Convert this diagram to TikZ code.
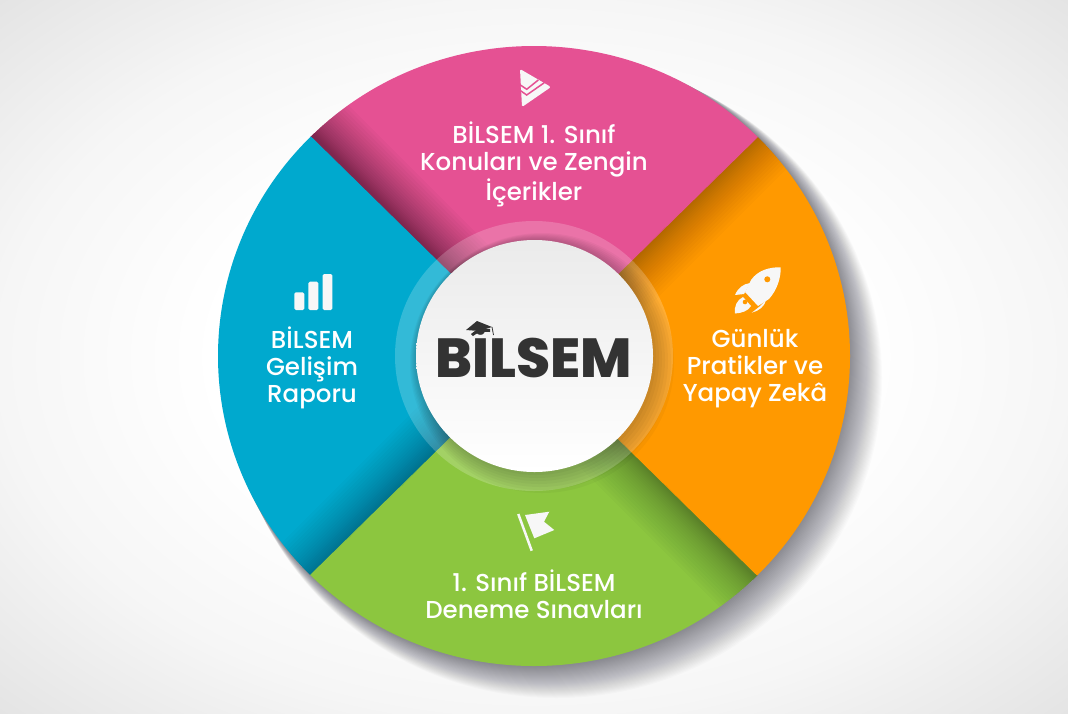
\documentclass[tikz,border=0pt]{standalone}
\usepackage{fontspec}
\usetikzlibrary{shapes.geometric}
\newfontfamily\labelfont{Poppins Medium}
\newfontfamily\logofont{Poppins ExtraBold}
\definecolor{pinkseg}{HTML}{E55193}
\definecolor{orangeseg}{HTML}{FF9900}
\definecolor{greenseg}{HTML}{8CC63F}
\definecolor{blueseg}{HTML}{00A9CE}
\definecolor{iconwhite}{HTML}{F7F7F7}
\definecolor{logogrey}{HTML}{333333}
\definecolor{bgmid}{HTML}{F6F6F6}
\definecolor{bgedge}{HTML}{E4E4E4}
\pgfdeclareradialshading{bgglow}{\pgfpoint{0bp}{0bp}}{color(0bp)=(white);color(15bp)=(white);color(25bp)=(bgmid);color(35.4bp)=(bgedge);color(50bp)=(bgedge)}
\tikzset{
	seglabel/.style={text=white,font=\labelfont\fontsize{24.5}{27}\selectfont,align=center,inner sep=0pt},
	icon/.style={fill=iconwhite,draw=none}
}
\begin{document}
\begin{tikzpicture}[x=1pt,y=-1pt]
	\useasboundingbox (0,0) rectangle (1068,713);
	\shade[shading=bgglow] (0,0) rectangle (1068,713);
	% shadow under the wheel
	\foreach \d in {1,2,...,32}
		\fill[blue!10!black,opacity=.014] ({534+.7*\d},{356+.7*\d}) ellipse [x radius={316+.3*\d},y radius={310+.3*\d}];
	\begin{scope}[shift={(534,356)}]
		\foreach \col/\ang/\op in {pinkseg/-135/.024,orangeseg/-45/.014,greenseg/45/.016,blueseg/135/.016}{
			\begin{scope}
				\clip (0,0) -- (\ang:316 and 310) arc [start angle=\ang,delta angle=90,x radius=316,y radius=310] -- cycle;
				\fill[\col] (-330,-330) rectangle (330,330);
				\foreach \w in {1,2,...,22}
					\fill[black,opacity=\op,rotate={0-(\ang)}] (0,-10) rectangle (340,{\w*\w*.05+\w});
			\end{scope}
		}
		% sharp edge along each cast shadow
		\foreach \col/\ang in {blueseg/-135,pinkseg/-45,orangeseg/45,greenseg/135}
			\draw[\col,line width=1pt] (0,0) -- (\ang:316 and 310);
	\end{scope}
	% glass ring and hub
	\node (ring) [ellipse,fill=white,fill opacity=.2,minimum width=278pt,minimum height=270pt,inner sep=0pt] at (534,356) {};
	\foreach \d in {2,4,...,14}
		\fill[black,opacity=.03] ({535+.5*\d},{356+.5*\d}) ellipse [x radius={118+\d},y radius={116+\d}];
	\node (hub) [ellipse,top color=black!8,bottom color=white,minimum width=237pt,minimum height=232pt,inner sep=0pt] at (534.5,356) {};
	\node (logo) [text=logogrey,font=\logofont\fontsize{55}{55}\selectfont,inner sep=0pt,anchor=base] at (534,377) {BİLSEM};
	% cap over the logo
	\fill[logogrey] (466,330) -- (477,321) -- (492,327) -- (479,331) -- cycle;
	\fill[logogrey] (471,334) .. controls (474,330) and (483,328) .. (490,329) -- (490,332) .. controls (484,331) and (476,333) .. (473,336) -- cycle;
	\draw[logogrey,line width=.8pt] (492,327) -- (493.5,335);
	% labels
	\node (konu) [seglabel] at (534,164.5) {BİLSEM 1. Sınıf\\Konuları ve Zengin\\İçerikler};
	\node (pratik) [seglabel] at (755,369) {Günlük\\Pratikler ve\\Yapay Zekâ};
	\node (deneme) [seglabel] at (534,594) {1. Sınıf BİLSEM\\Deneme Sınavları};
	\node (rapor) [seglabel] at (312,368) {BİLSEM\\Gelişim\\Raporu};
	% pink icon
	\fill[icon,rounded corners=1.5pt] (520,69) -- (551,87) -- (522,107) -- cycle;
	\draw[pinkseg,line width=1.5pt] (517,82.7) -- (526.7,89.3) -- (538.3,80);
	\draw[pinkseg,line width=1.5pt] (517,88.3) -- (526.7,95) -- (544.3,82.7);
	% rocket
	\fill[icon] (780.7,267.3) .. controls (770,267) and (758,270) .. (751,280) -- (745,292) -- (758,306) -- (769,299) .. controls (777,290) and (781,278) .. cycle;
	\fill[icon] (735,295) .. controls (738,288) and (743,284) .. (750,283) -- (744,294) -- cycle;
	\fill[icon] (751.7,312.7) -- (759,307) -- (766,300) .. controls (765,306) and (759,311) .. cycle;
	\fill[icon] (735,313.5) .. controls (734,306) and (737,300) .. (743,297) -- (751,306) .. controls (748,311) and (742,313) .. cycle;
	\fill[orangeseg] (767.3,279.3) circle (3);
	\fill[orangeseg] (745,302) circle (2.3);
	% bars
	\fill[icon,rounded corners=1.5pt] (294.3,292.3) rectangle (304.3,310);
	\fill[icon,rounded corners=1.5pt] (308.3,281.7) rectangle (318.3,310);
	\fill[icon,rounded corners=1.5pt] (322.7,274) rectangle (332.3,310);
	% flag
	\draw[iconwhite,line width=2.5pt] (518.3,514) -- (531.7,550.7);
	\fill[icon] (525,515) -- (549.3,511.7) -- (544,521.7) -- (554.3,530) -- (534.3,538.3) -- cycle;
\end{tikzpicture}
\end{document}
